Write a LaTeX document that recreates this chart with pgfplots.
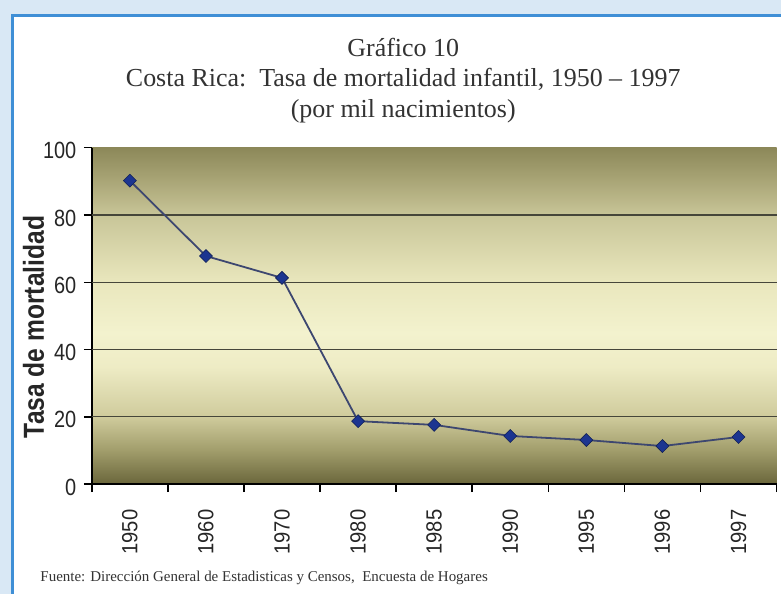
\documentclass[border=0pt]{standalone}
\usepackage{pgfplots}
\pgfplotsset{compat=1.18}
\usepackage{fontspec}
\setmainfont{Liberation Serif}
\newfontfamily\titlefont{Liberation Serif}
\newfontfamily\narrowsans[FakeStretch=0.92]{Liberation Sans}
\newfontfamily\ticksans[FakeStretch=0.85]{Liberation Sans}
\newfontfamily\labelsans[FakeStretch=0.85]{Liberation Sans}
\definecolor{outerblue}{HTML}{D9E8F5}
\definecolor{borderblue}{HTML}{3F8FD6}
\definecolor{c00}{HTML}{6A663B}
\definecolor{c10}{HTML}{A19D6B}
\definecolor{c20}{HTML}{CFCB9C}
\definecolor{c35}{HTML}{EEECC5}
\definecolor{c45}{HTML}{F3F2CE}
\definecolor{c60}{HTML}{E9E7BD}
\definecolor{c80}{HTML}{C8C598}
\definecolor{c90}{HTML}{AAA677}
\definecolor{c100}{HTML}{8C8859}
\definecolor{linecol}{HTML}{3D4770}
\definecolor{markfill}{HTML}{1C3590}
\definecolor{titlegray}{HTML}{333333}
\definecolor{gridcol}{HTML}{46463A}
\pgfdeclareverticalshading{olivebg}{100bp}{color(0bp)=(c00); color(25bp)=(c00); color(30bp)=(c10); color(35bp)=(c20); color(42.5bp)=(c35); color(47.5bp)=(c45); color(55bp)=(c60); color(65bp)=(c80); color(70bp)=(c90); color(75bp)=(c100); color(100bp)=(c100)}
\begin{document}
\begin{tikzpicture}[x=1pt,y=1pt]
\fill[outerblue] (0,0) rectangle (782,595);
\fill[white] (13,0) rectangle (782,579);
\draw[line width=3pt, borderblue] (13,0) -- (13,579) -- (782,579);
\node[anchor=base, text=titlegray, font=\titlefont\fontsize{26}{26}\selectfont] at (404,538) {Gráfico 10};
\node[anchor=base, text=titlegray, font=\titlefont\fontsize{26}{26}\selectfont] at (404,508) {Costa Rica:\ \ Tasa de mortalidad infantil, 1950 – 1997};
\node[anchor=base, text=titlegray, font=\titlefont\fontsize{26}{26}\selectfont] at (404,477) {(por mil nacimientos)};
\node[anchor=base west, text=titlegray, font=\titlefont\fontsize{15}{15}\selectfont] at (37,12) {Fuente: Dirección General de Estadisticas y Censos,\ \ Encuesta de Hogares};
\begin{axis}[
  at={(92pt,110pt)}, anchor=south west,
  scale only axis, width=686pt, height=337pt,
  xmin=-0.5, xmax=8.5, ymin=0, ymax=100,
  axis x line*=bottom, axis y line*=left,
  x axis line style={-, line width=2pt, black},
  y axis line style={-, line width=2pt, black},
  axis background/.style={shading=olivebg},
  /pgf/number format/assume math mode=true,
  xtick={0,1,2,3,4,5,6,7,8},
  xticklabels={1950,1960,1970,1980,1985,1990,1995,1996,1997},
  minor xtick={-0.5,0.5,1.5,2.5,3.5,4.5,5.5,6.5,7.5,8.5},
  every major x tick/.append style={draw=none},
  every minor x tick/.append style={line width=1.5pt, black},
  minor tick length=8pt,
  major tick length=8pt,
  tick align=outside,
  ytick={0,20,40,60,80,100},
  every major y tick/.append style={line width=1.5pt, black},
  extra y ticks={20,40,60,80},
  extra y tick labels={},
  extra y tick style={grid=major, major tick length=0pt, grid style={line width=1.3pt, gridcol}},
  xticklabel style={yshift=-14pt, rotate=90, anchor=east, font=\narrowsans\fontsize{22}{22}\selectfont, text=black!85},
  yticklabel style={font=\ticksans\fontsize{23.5}{23.5}\selectfont, text=black!85, xshift=-4pt, yshift=-3pt},
  ylabel={Tasa de mortalidad},
  every axis y label/.style={at={(axis description cs:-0.085,0.467)}, rotate=90, anchor=center},
  ylabel style={font=\labelsans\bfseries\fontsize{29}{29}\selectfont, text=black!85},
  clip=false,
]
\addplot[color=linecol, line width=1.8pt, mark=square*, mark size=4.6pt,
  mark options={rotate=45, fill=markfill, draw=markfill!60!black, line width=0.6pt}]
  coordinates {(0,90.2) (1,67.8) (2,61.3) (3,18.7) (4,17.6) (5,14.3) (6,13.1) (7,11.3) (8,14.0)};
\end{axis}
\end{tikzpicture}
\end{document}
